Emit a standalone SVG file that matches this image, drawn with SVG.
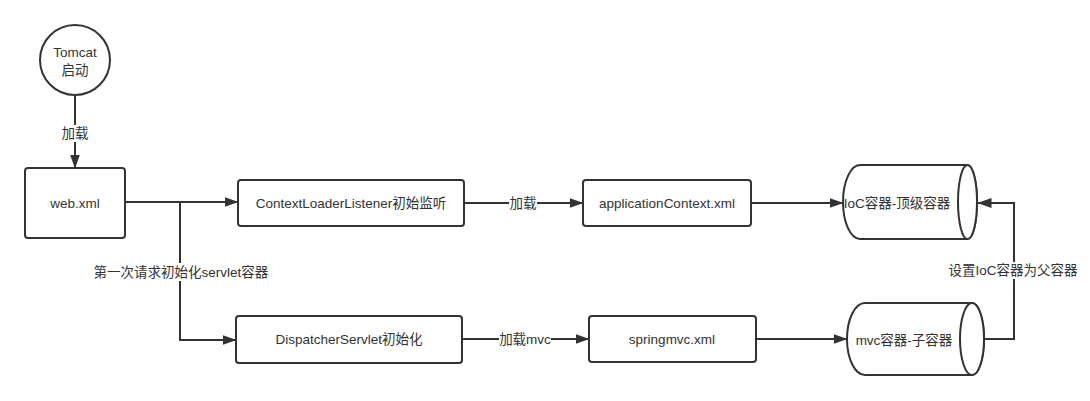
<svg xmlns="http://www.w3.org/2000/svg" width="1090" height="401" viewBox="0 0 1090 401">
  <style>
    .shape { fill: #ffffff; stroke: #333333; stroke-width: 2; }
    .edge { fill: none; stroke: #333333; stroke-width: 2; }
    .txt { font-family: "Liberation Sans", "Noto Sans CJK SC", sans-serif; font-size: 13.5px; fill: #333333; text-anchor: middle; }
    .lblbg { fill: #ffffff; stroke: none; }
  </style>
  <defs>
    <marker id="arrow" viewBox="0 0 14 10" markerWidth="14" markerHeight="10" refX="13.5" refY="5" orient="auto" markerUnits="userSpaceOnUse">
      <path d="M0,0 L14,5 L0,10 Z" fill="#333333" stroke="none"/>
    </marker>
  </defs>
  <rect width="1090" height="401" fill="#ffffff"/>

  <g id="connectors">
    <path class="edge" d="M75,95 V168" marker-end="url(#arrow)"/>
    <path class="edge" d="M125,202 H238" marker-end="url(#arrow)"/>
    <path class="edge" d="M180,202 V340 H236" marker-end="url(#arrow)"/>
    <path class="edge" d="M464,203 H583" marker-end="url(#arrow)"/>
    <path class="edge" d="M751,203 H843" marker-end="url(#arrow)"/>
    <path class="edge" d="M462,339 H589" marker-end="url(#arrow)"/>
    <path class="edge" d="M756,339 H847" marker-end="url(#arrow)"/>
    <path class="edge" d="M984,339 H1014 V203 H978" marker-end="url(#arrow)"/>

    <rect class="lblbg" x="61" y="125" width="28" height="17"/>
    <text class="txt" x="75" y="138">加载</text>

    <rect class="lblbg" x="94" y="263" width="174" height="18"/>
    <text class="txt" x="181" y="277">第一次请求初始化servlet容器</text>

    <rect class="lblbg" x="509" y="195" width="28" height="17"/>
    <text class="txt" x="523" y="208">加载</text>

    <rect class="lblbg" x="499" y="331" width="52" height="17"/>
    <text class="txt" x="525" y="344">加载mvc</text>

    <rect class="lblbg" x="950" y="262" width="128" height="17"/>
    <text class="txt" x="1013" y="275">设置IoC容器为父容器</text>
  </g>

  <g id="tomcat">
    <circle class="shape" cx="75" cy="60" r="35"/>
    <text class="txt" x="75" y="57">Tomcat</text>
    <text class="txt" x="75" y="75">启动</text>
  </g>

  <g id="webxml">
    <rect class="shape" x="25" y="168" width="100" height="70" rx="3"/>
    <text class="txt" x="75" y="208">web.xml</text>
  </g>

  <g id="contextLoaderListener">
    <rect class="shape" x="238" y="180" width="226" height="46" rx="3"/>
    <text class="txt" x="351" y="208">ContextLoaderListener初始监听</text>
  </g>

  <g id="dispatcherServlet">
    <rect class="shape" x="236" y="316" width="226" height="47" rx="3"/>
    <text class="txt" x="349" y="344">DispatcherServlet初始化</text>
  </g>

  <g id="applicationContext">
    <rect class="shape" x="583" y="180" width="168" height="46" rx="3"/>
    <text class="txt" x="667" y="208">applicationContext.xml</text>
  </g>

  <g id="springmvc">
    <rect class="shape" x="589" y="316" width="167" height="46" rx="3"/>
    <text class="txt" x="672" y="344">springmvc.xml</text>
  </g>

  <g id="iocContainer">
    <path class="shape" d="M860,165 H967.5 A9.5,37 0 0 1 967.5,239 H860 A17,37 0 0 1 860,165 Z"/>
    <ellipse class="shape" cx="967.5" cy="202" rx="9.5" ry="37"/>
    <text class="txt" x="897" y="208">IoC容器-顶级容器</text>
  </g>

  <g id="mvcContainer">
    <path class="shape" d="M865,303 H972 A12,36 0 0 1 972,375 H865 A18,36 0 0 1 865,303 Z"/>
    <ellipse class="shape" cx="972" cy="339" rx="12" ry="36"/>
    <text class="txt" x="904" y="345">mvc容器-子容器</text>
  </g>
</svg>
